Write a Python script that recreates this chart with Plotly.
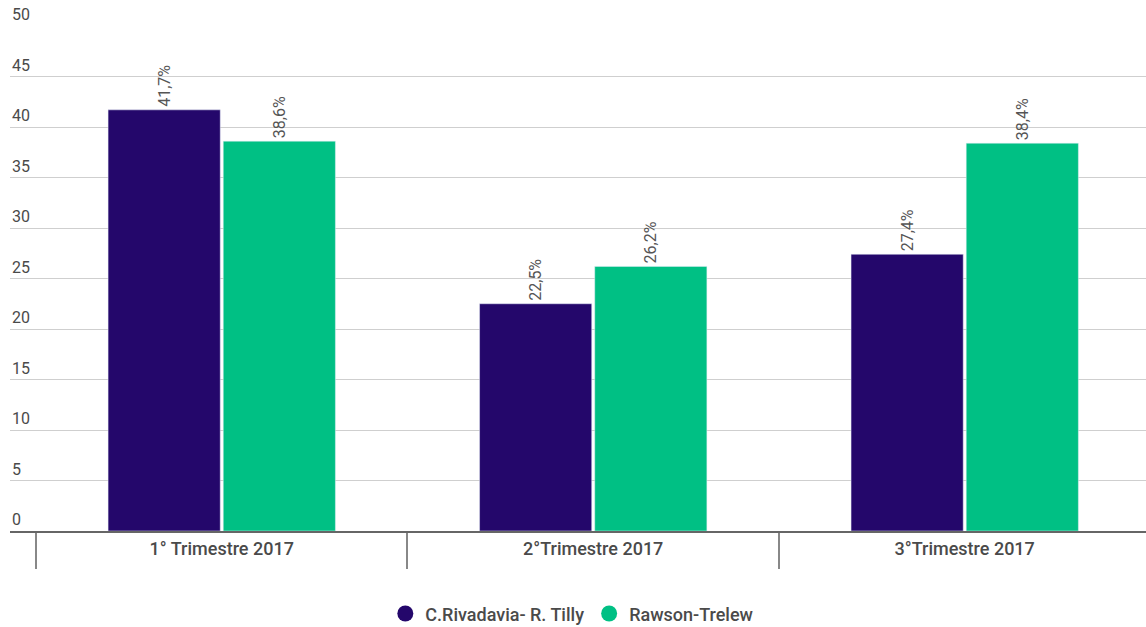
import plotly.graph_objs as go

categorias = ['1° Trimestre 2017', '2°Trimestre 2017', '3°Trimestre 2017']
rivadavia = [41.7, 22.5, 27.4]
rawson = [38.6, 26.2, 38.4]
series = ['C.Rivadavia- R. Tilly', 'Rawson-Trelew']
y_ticks = [0, 5, 10, 15, 20, 25, 30, 35, 40, 45, 50]

colores = ['#24076b', '#00c084']

fig = go.Figure()

for nombre, valores, color in zip(series, [rivadavia, rawson], colores):
    fig.add_trace(go.Bar(
        x=categorias, y=valores, name=nombre,
        marker=dict(color=color),
        texttemplate='%{y:.1f}%', textposition='outside', textangle=-90,
        textfont=dict(size=16, color='#555', family='Roboto'),
        cliponaxis=False,
        showlegend=False,
    ))
    # marcadores circulares para la leyenda
    fig.add_trace(go.Scatter(
        x=[None], y=[None], mode='markers', name=nombre,
        marker=dict(color=color, size=22, symbol='circle'),
    ))

# etiquetas del eje y alineadas a la izquierda, sobre cada linea
for v in y_ticks:
    fig.add_annotation(
        x=0, xref='paper', y=v, yref='y', text=str(v),
        xanchor='left', yanchor='bottom', yshift=0, showarrow=False,
        font=dict(size=16, color='#4a4a4a'),
    )

fig.update_layout(
    width=1146, height=627,
    margin=dict(l=10, r=0, t=26, b=96, autoexpand=False),
    paper_bgcolor='white', plot_bgcolor='white',
    separators=',.',
    barmode='group', bargap=0.38, bargroupgap=0.026,
    font=dict(family='Roboto', color='#444'),
    xaxis=dict(
        range=[-0.57, 2.488],
        automargin=False,
        showgrid=False,
        showline=True, linecolor='#666', linewidth=2,
        ticks='outside', tickson='boundaries', ticklen=36,
        tickcolor='#888', tickwidth=2,
        tickfont=dict(size=18, color='#4a4a4a', weight=500),
    ),
    yaxis=dict(
        range=[0, 50],
        automargin=False,
        tickvals=y_ticks[:-1],
        showticklabels=False,
        showgrid=True, gridcolor='#cfcfcf', gridwidth=1,
        zeroline=False, showline=False,
    ),
    legend=dict(
        orientation='h', x=0.495, xanchor='center', y=-0.164, yanchor='middle',
        font=dict(size=18, color='#4a4a4a', weight=500),
        itemsizing='trace',
    ),
)

fig.write_html('out.html', config={'displayModeBar': False},
               post_script="document.body.style.margin='0';")
